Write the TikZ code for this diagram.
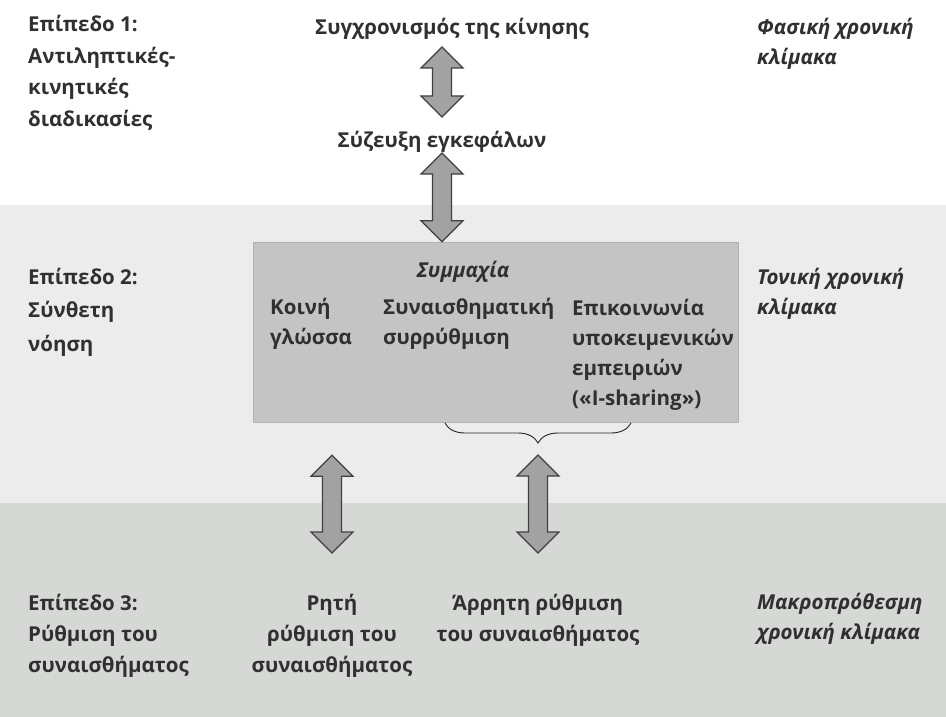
\documentclass[tikz,border=0pt]{standalone}
\usepackage{fontspec}
\setmainfont{Open Sans}
\usetikzlibrary{calc,decorations.pathreplacing,positioning}

\definecolor{inkgray}{HTML}{303030}
\definecolor{bandlight}{HTML}{ECECEC}
\definecolor{banddark}{HTML}{D6D8D6}
\definecolor{boxgray}{HTML}{C4C4C4}
\definecolor{arrowgray}{HTML}{A2A2A2}

\begin{document}
\begin{tikzpicture}[x=1pt,y=-1pt,
  font=\fontsize{20.5}{31}\selectfont\bfseries,text=inkgray,
  lbl/.style={inner sep=0pt,align=left,anchor=base west},
  ctr/.style={inner sep=0pt,align=center,anchor=base},
  timescale/.style={lbl,font=\fontsize{20.5}{30}\selectfont\bfseries\itshape},
  boxlbl/.style={lbl,font=\fontsize{20.5}{30}\selectfont\bfseries},
  brace/.style={decorate,decoration={brace,amplitude=20pt},draw=black!85,line width=0.9pt},
  blockarrow/.style={draw=black!75,fill=arrowgray,line width=1.2pt,line join=miter,
    to path={let \p1=(\tikztostart),\p2=(\tikztotarget) in
      (\x1,\y1) -- (\x1+21pt,\y1-21pt) -- (\x1+9.5pt,\y1-21pt) -- (\x1+9.5pt,\y2+21pt)
      -- (\x1+21pt,\y2+21pt) -- (\x1,\y2) -- (\x1-21pt,\y2+21pt) -- (\x1-9.5pt,\y2+21pt)
      -- (\x1-9.5pt,\y1-21pt) -- (\x1-21pt,\y1-21pt) -- cycle}}]
\useasboundingbox (0,0) rectangle (946,717);
\fill[white] (0,0) rectangle (946,205);
\fill[bandlight] (0,205) rectangle (946,503);
\fill[banddark] (0,503) rectangle (946,717);

% level 1 (multi-line nodes sit on their last baseline)
\node[lbl,font=\fontsize{20.5}{31.5}\selectfont\bfseries] (lvl1) at (28,126) {Επίπεδο 1:\\Αντιληπτικές-\\κινητικές\\διαδικασίες};
\node[ctr] (sync) at (452,35) {Συγχρονισμός της κίνησης};
\node[ctr] (brain) at (442,147) {Σύζευξη εγκεφάλων};
\node[timescale] (phasic) at (757,65) {Φασική χρονική\\κλίμακα};

% level 2
\node[lbl,font=\fontsize{20.5}{33.5}\selectfont\bfseries] (lvl2) at (28,351) {Επίπεδο 2:\\Σύνθετη\\νόηση};
\node[draw=black!30,fill=boxgray,minimum width=485,minimum height=180,inner sep=0pt] (box) at (495.5,332) {};
\node[ctr,font=\fontsize{20.5}{30}\selectfont\bfseries\itshape] (alliance) at (463,277) {Συμμαχία};
\node[boxlbl] (language) at (270,344) {Κοινή\\γλώσσα};
\node[boxlbl] (attune) at (383,344) {Συναισθηματική\\συρρύθμιση};
\node[boxlbl] (isharing) at (572,405) {Επικοινωνία\\υποκειμενικών\\εμπειριών\\(«I-sharing»)};
\node[timescale] (tonic) at (757,314) {Τονική χρονική\\κλίμακα};

% level 3
\node[lbl] (lvl3) at (28,672) {Επίπεδο 3:\\Ρύθμιση του\\συναισθήματος};
\node[ctr] (explicit) at (332,672) {Ρητή\\ρύθμιση του\\συναισθήματος};
\node[ctr] (implicit) at (538,641) {Άρρητη ρύθμιση\\του συναισθήματος};
\node[timescale] (longterm) at (757,639) {Μακροπρόθεσμη\\χρονική κλίμακα};

% brace under the box
\coordinate (brL) at (445,423);
\coordinate (brR) at (631,423);
\coordinate (brtip) at (538,445);
\draw[brace] (brR) -- (brL);

% block arrows
\draw[blockarrow] ($(sync.base -| brain.base)+(0,12)$) to ($(brain.base)+(0,-30)$);
\draw[blockarrow] ($(brain.base)+(0,6)$) to (brain.base |- box.north);
\draw[blockarrow] ($(explicit.base |- box.south)+(0,33)$) to ($(explicit.base)+(0,-119)$);
\draw[blockarrow] ($(brtip)+(0,10)$) to ($(implicit.base)+(0,-88)$);
\end{tikzpicture}
\end{document}
